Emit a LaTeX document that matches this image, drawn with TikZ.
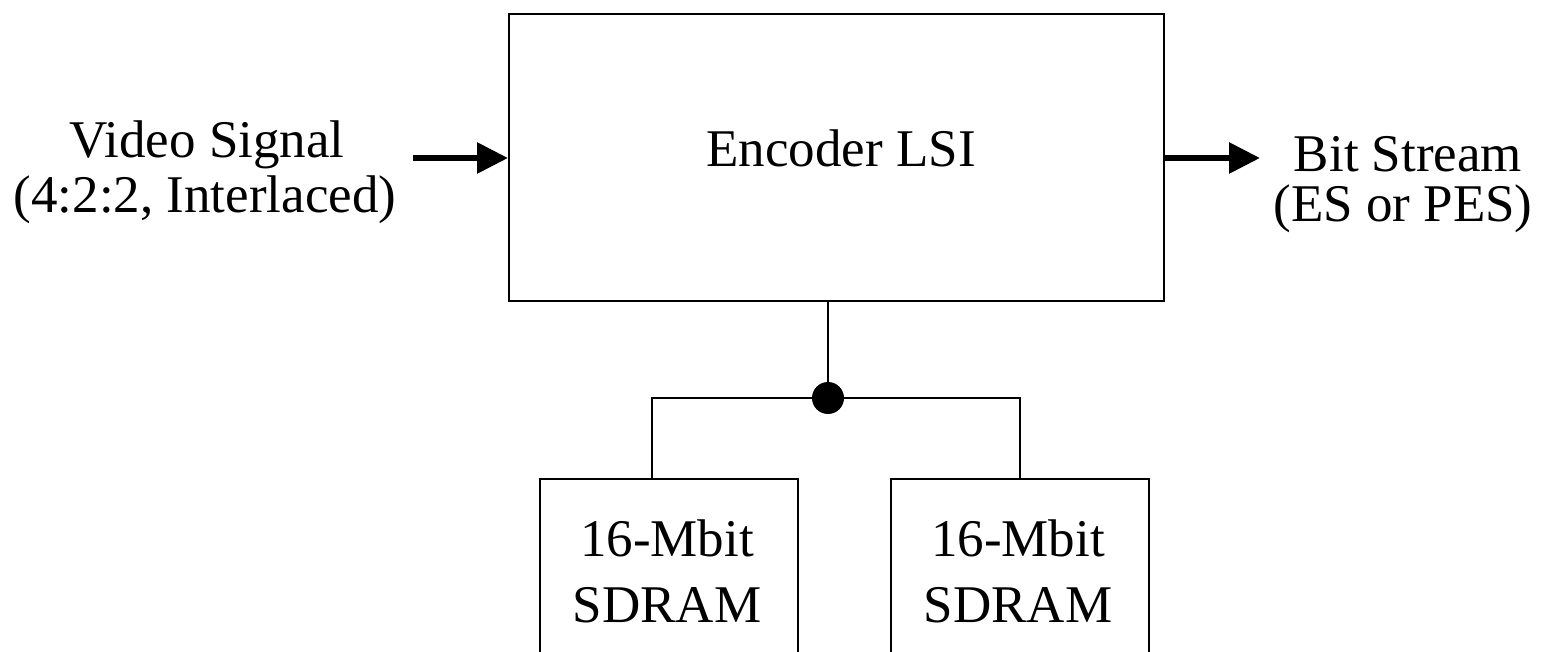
\documentclass[tikz,border=0pt]{standalone}
\usepackage{fontspec}
\setmainfont{Liberation Serif}
\usetikzlibrary{arrows.meta}
\begin{document}
\begin{tikzpicture}[x=1pt,y=-1pt,
  box/.style={draw,line width=2pt,inner sep=0pt},
  txt/.style={anchor=base,inner sep=0pt,font=\fontsize{53}{60}\selectfont},
  thin/.style={line width=2pt},
  bigarrow/.style={line width=6pt,-{Triangle[length=31pt,width=30pt]}}]
\useasboundingbox (0,0) rectangle (1543,652);
% main box
\node[box,minimum width=655pt,minimum height=287pt] (enc) at (836.5,157.5) {};
\node[txt] (enclbl) at (841,167) {Encoder LSI};
% inputs and outputs
\node[txt] (vin1) at (207,158) {Video Signal};
\node[txt] (vin2) at (205,213) {(4:2:2, Interlaced)};
\node[txt] (bout1) at (1408,172) {Bit Stream};
\node[txt] (bout2) at (1403,222) {(ES or PES)};
\coordinate (ain) at (413,158);
\coordinate (aout) at (1260,158);
\draw[bigarrow] (ain) -- (ain -| enc.west);
\draw[bigarrow] (enc.east |- aout) -- (aout);
% memory boxes
\node[box,minimum width=258pt,minimum height=221pt] (m1) at (669,589.5) {};
\node[box,minimum width=258pt,minimum height=221pt] (m2) at (1020,589.5) {};
\node[txt] (m1a) at (667,556) {16-Mbit};
\node[txt] (m1b) at (667,622) {SDRAM};
\node[txt] (m2a) at (1018,556) {16-Mbit};
\node[txt] (m2b) at (1018,622) {SDRAM};
% bus
\node[circle,fill,minimum size=32pt,inner sep=0pt] (j) at (828,398) {};
\coordinate (p1) at (652,479);
\coordinate (p2) at (1020,479);
\draw[thin] (j |- enc.south) -- (j.center);
\draw[thin] (j.center) -| (p1);
\draw[thin] (j.center) -| (p2);
\end{tikzpicture}
\end{document}
